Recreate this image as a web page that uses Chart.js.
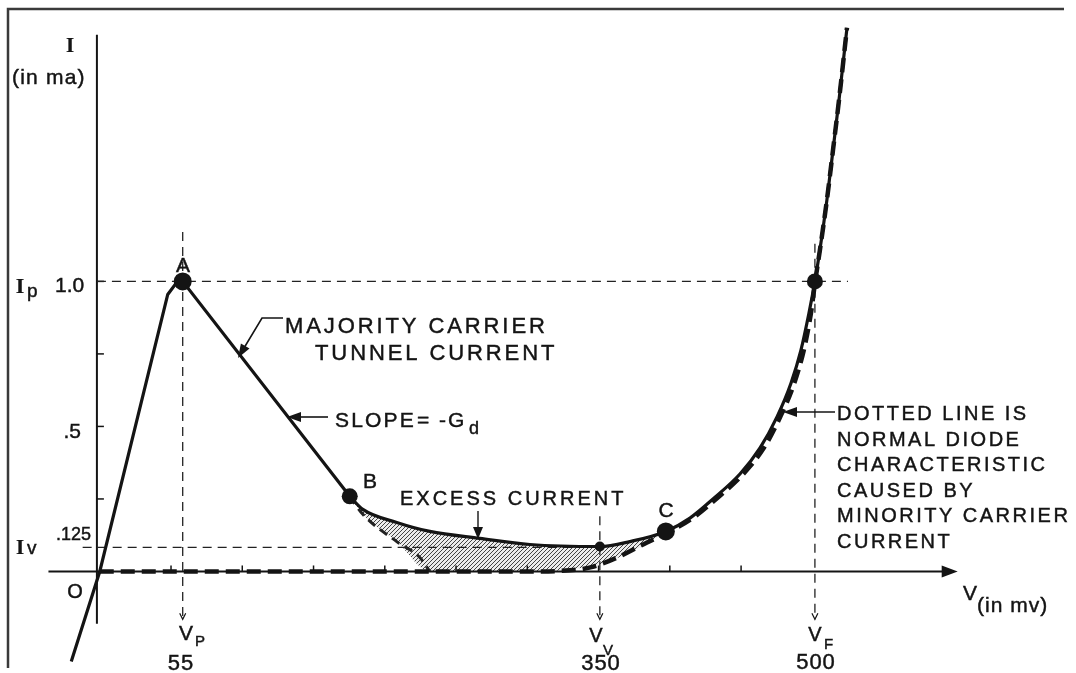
<!DOCTYPE html>
<html>
<head>
<meta charset="utf-8">
<script src="https://cdn.jsdelivr.net/npm/chart.js@4/dist/chart.umd.min.js"></script>
<style>
  html, body { margin: 0; padding: 0; background: #fff; }
  #wrap { width: 1076px; height: 673px; }
</style>
</head>
<body>
<div id="wrap"><canvas id="chart" width="1076" height="673"></canvas></div>
<script>
// tunnel diode I-V curve, V in mV, I in mA
const tunnelV = [-20, 0, 47.7, 53, 58.2, 175.4];
const tunnelI = [-0.31, 0, 0.955, 0.99, 1.0, 0.259];

const valleyV = [175.4, 184.6, 208.4, 231.6, 266.7, 301.8, 350.9, 371.9, 397.2, 414.1, 430.3, 449.2, 463.3, 475.2, 485.0, 492.0, 497.6, 501.8, 505.3, 510.2, 514.5, 518.7, 524.3];
const valleyI = [0.259, 0.214, 0.169, 0.138, 0.114, 0.093, 0.086, 0.103, 0.138, 0.184, 0.25, 0.336, 0.426, 0.533, 0.649, 0.763, 0.89, 1.0, 1.108, 1.28, 1.453, 1.625, 1.874];

// normal diode characteristic (dotted)
const diodeV = [0, 150, 300, 330, 345, 363, 384, 397.2, 416, 432.5, 451.5, 466, 477.5, 487.3, 494, 499, 502, 505.3, 510.2, 514.5, 518.7, 524.3];
const diodeI = [0, 0, 0, 0.004, 0.015, 0.048, 0.1, 0.131, 0.184, 0.25, 0.336, 0.426, 0.533, 0.649, 0.763, 0.89, 1.0, 1.108, 1.28, 1.453, 1.625, 1.874];

// tunnel current falling off past B (dashed)
const tailV = [175.4, 184.6, 208.4, 224.6, 231.6];
const tailI = [0.259, 0.197, 0.103, 0.048, 0];

// excess current region
const excessV = [175.4, 184.6, 208.4, 231.6, 266.7, 301.8, 350.9, 371.9, 397.2];
const excessTop = [0.259, 0.214, 0.169, 0.138, 0.114, 0.093, 0.086, 0.103, 0.138];
const excessBottom = [0.259, 0.197, 0.103, 0, 0, 0, 0.025, 0.065, 0.135];

// marked points A, B, valley, C, F
const dotV = [58.2, 175.4, 350.9, 397.2, 501.8];
const dotI = [1.0, 0.259, 0.086, 0.138, 1.0];

const Ip = 1.0, Iv = 0.083;
const Vp = 58.2, Vv = 350.9, Vf = 501.8;
const yTicks = [0.25, 0.5, 0.75, 1.0];
const xTicks = [50, 100, 150, 200, 250, 300, 350, 400, 450];

const pts = (xs, ys) => xs.map((x, i) => ({ x: x, y: ys[i] }));
const INK = '#141414';

// hatch pattern for the excess current area
function hatch() {
    const c = document.createElement('canvas');
    c.width = 4; c.height = 4;
    const g = c.getContext('2d');
    g.fillStyle = '#ececec';
    g.fillRect(0, 0, 4, 4);
    g.strokeStyle = '#444';
    g.lineWidth = 1;
    g.beginPath();
    g.moveTo(0, 4); g.lineTo(4, 0);
    g.moveTo(-1, 1); g.lineTo(1, -1);
    g.moveTo(3, 5); g.lineTo(5, 3);
    g.stroke();
    return g.createPattern(c, 'repeat');
}

const guide = (data) => ({
    data: data, showLine: true, borderColor: '#222', borderWidth: 1.3,
    borderDash: [9, 6], pointRadius: 0, fill: false, tension: 0
});

// helpers for the drawing plugin
function txt(ctx, s, x, y, size, opt) {
    opt = opt || {};
    ctx.save();
    ctx.font = (opt.weight || '') + ' ' + size + 'px ' + (opt.family || '"Liberation Sans", Arial, sans-serif');
    ctx.fillStyle = INK;
    ctx.strokeStyle = INK;
    ctx.lineWidth = opt.bold === undefined ? 0.45 : opt.bold;
    ctx.textAlign = opt.align || 'left';
    ctx.textBaseline = 'alphabetic';
    if ('letterSpacing' in ctx) ctx.letterSpacing = (opt.ls || 0) + 'px';
    ctx.fillText(s, x, y);
    if (ctx.lineWidth > 0) ctx.strokeText(s, x, y);
    ctx.restore();
}
function line(ctx, p, w) {
    ctx.save();
    ctx.strokeStyle = INK; ctx.lineWidth = w || 1.5;
    ctx.beginPath();
    ctx.moveTo(p[0][0], p[0][1]);
    for (let i = 1; i < p.length; i++) ctx.lineTo(p[i][0], p[i][1]);
    ctx.stroke();
    ctx.restore();
}
function head(ctx, x, y, ang, len, wid) {
    ctx.save();
    ctx.translate(x, y); ctx.rotate(ang);
    ctx.fillStyle = INK;
    ctx.beginPath();
    ctx.moveTo(0, 0); ctx.lineTo(-len, -wid); ctx.lineTo(-len, wid);
    ctx.closePath(); ctx.fill();
    ctx.restore();
}

const diagram = {
    id: 'diagram',
    beforeDatasetsDraw(chart) {
        const ctx = chart.ctx;
        const sx = chart.scales.x, sy = chart.scales.y;
        const X = v => sx.getPixelForValue(v), Y = i => sy.getPixelForValue(i);

        // frame
        ctx.save();
        ctx.strokeStyle = '#3a3a3a'; ctx.lineWidth = 2.5;
        ctx.beginPath();
        ctx.moveTo(8, 668); ctx.lineTo(8, 9); ctx.lineTo(1064, 9);
        ctx.stroke();
        ctx.restore();

        // axes
        line(ctx, [[X(-2), Y(-0.18)], [X(-2), Y(1.85)]], 2);
        line(ctx, [[X(-36), Y(0)], [X(592), Y(0)]], 2);
        head(ctx, X(602), Y(0), 0, 16, 6);
        yTicks.forEach(t => line(ctx, [[X(-2), Y(t)], [X(-2) + 7, Y(t)]], 1.5));
        xTicks.forEach(t => line(ctx, [[X(t), Y(0)], [X(t), Y(0) - 6]], 1.5));

        // small arrowheads at the foot of the guide lines
        [Vp, Vv, Vf].forEach(v => {
            line(ctx, [[X(v) - 3, Y(-0.165) - 6], [X(v), Y(-0.165)], [X(v) + 3, Y(-0.165) - 6]], 1.2);
        });
    },
    afterDraw(chart) {
        const ctx = chart.ctx;
        const serif = { family: '"Liberation Serif", serif', weight: 'bold', bold: 0.2 };

        // axis titles
        txt(ctx, 'I', 70, 52, 21, Object.assign({ align: 'center' }, serif));
        txt(ctx, '(in ma)', 12, 84, 21, { ls: 1.2 });
        txt(ctx, 'V', 963, 600, 21);
        txt(ctx, '(in mv)', 977, 612, 21, { ls: 1 });

        // y labels
        txt(ctx, 'I', 20, 293, 22, Object.assign({ align: 'center' }, serif));
        txt(ctx, 'p', 27, 297, 19);
        txt(ctx, '1.0', 55, 292, 21);
        txt(ctx, '.5', 81, 438, 21, { align: 'right' });
        txt(ctx, 'I', 20, 554, 21, Object.assign({ align: 'center' }, serif));
        txt(ctx, 'v', 27, 554, 19);
        txt(ctx, '.125', 91, 540, 18, { align: 'right' });
        txt(ctx, 'O', 75, 598, 20, { align: 'center' });

        // x labels
        txt(ctx, 'V', 186, 640, 21, { align: 'center' });
        txt(ctx, 'P', 195, 646, 15);
        txt(ctx, '55', 181, 670, 22, { align: 'center', ls: 1 });
        txt(ctx, 'V', 596, 642, 20, { align: 'center' });
        txt(ctx, 'V', 603, 655, 15);
        txt(ctx, '350', 601, 670, 22, { align: 'center', ls: 1 });
        txt(ctx, 'V', 815, 641, 20, { align: 'center' });
        txt(ctx, 'F', 824, 649, 15);
        txt(ctx, '500', 816, 669, 22, { align: 'center', ls: 1 });

        // point letters
        txt(ctx, 'A', 183, 272, 21, { align: 'center' });
        txt(ctx, 'B', 370, 488, 21, { align: 'center' });
        txt(ctx, 'C', 666, 517, 21, { align: 'center' });

        // annotations
        txt(ctx, 'MAJORITY CARRIER', 285, 333, 22, { ls: 2.9 });
        txt(ctx, 'TUNNEL CURRENT', 315, 360, 22, { ls: 2.9 });
        line(ctx, [[283, 318], [262, 318], [244, 348]], 1.6);
        head(ctx, 238, 358, Math.atan2(10, -6), 14, 5);

        txt(ctx, 'SLOPE', 335, 427, 21, { ls: 2.2 });
        txt(ctx, '= -G', 417, 427, 21, { ls: 2 });
        txt(ctx, 'd', 469, 434, 18);
        line(ctx, [[328, 417], [297, 417]], 1.6);
        head(ctx, 287, 417, Math.PI, 14, 5);

        txt(ctx, 'EXCESS CURRENT', 400, 505, 20, { ls: 3 });
        line(ctx, [[478, 511], [478, 528]], 1.4);
        head(ctx, 478, 539, Math.PI / 2, 12, 5);

        const note = ['DOTTED LINE IS', 'NORMAL DIODE', 'CHARACTERISTIC', 'CAUSED BY', 'MINORITY CARRIER', 'CURRENT'];
        note.forEach((s, i) => txt(ctx, s, 837, 420 + i * 25.6, 20, { ls: 2.5 }));
        line(ctx, [[835, 412], [794, 412]], 1.6);
        head(ctx, 783, 412, Math.PI, 14, 5);
    }
};

const pattern = hatch();

new Chart(document.getElementById('chart'), {
    type: 'scatter',
    data: {
        datasets: [
            // marked points
            { data: pts(dotV, dotI), pointRadius: [9, 8, 5, 9, 8], pointBackgroundColor: INK, pointBorderWidth: 0, showLine: false },
            // solid curve
            { data: pts(tunnelV, tunnelI), showLine: true, borderColor: INK, borderWidth: 3.2, pointRadius: 0, tension: 0 },
            { data: pts(valleyV, valleyI), showLine: true, borderColor: INK, borderWidth: 3.2, pointRadius: 0, cubicInterpolationMode: 'monotone' },
            // dashed curves
            { data: pts(diodeV, diodeI), showLine: true, borderColor: INK, borderWidth: 4.5, borderDash: [14, 7], pointRadius: 0, cubicInterpolationMode: 'monotone' },
            { data: pts(tailV, tailI), showLine: true, borderColor: '#222', borderWidth: 3, borderDash: [9, 6], pointRadius: 0, cubicInterpolationMode: 'monotone' },
            // guide lines
            guide([{ x: -2, y: Ip }, { x: 525, y: Ip }]),
            guide([{ x: -12, y: Iv }, { x: Vv, y: Iv }]),
            guide([{ x: Vp, y: 1.17 }, { x: Vp, y: -0.165 }]),
            guide([{ x: Vv, y: 0.19 }, { x: Vv, y: -0.165 }]),
            guide([{ x: Vf, y: 1.13 }, { x: Vf, y: -0.165 }]),
            // excess current hatch
            { data: pts(excessV, excessBottom), showLine: true, borderWidth: 0, borderColor: 'rgba(0,0,0,0)', pointRadius: 0, cubicInterpolationMode: 'monotone' },
            { data: pts(excessV, excessTop), showLine: true, borderWidth: 0, borderColor: 'rgba(0,0,0,0)', pointRadius: 0, cubicInterpolationMode: 'monotone', fill: '-1', backgroundColor: pattern }
        ]
    },
    options: {
        responsive: false,
        devicePixelRatio: 1,
        animation: false,
        layout: { padding: 0, autoPadding: false },
        scales: {
            x: { type: 'linear', min: -70, max: 685, display: false },
            y: { type: 'linear', min: -0.35, max: 1.97, display: false }
        },
        plugins: {
            legend: { display: false },
            tooltip: { enabled: false },
            filler: { drawTime: 'beforeDatasetsDraw' }
        }
    },
    plugins: [diagram]
});
</script>
</body>
</html>
